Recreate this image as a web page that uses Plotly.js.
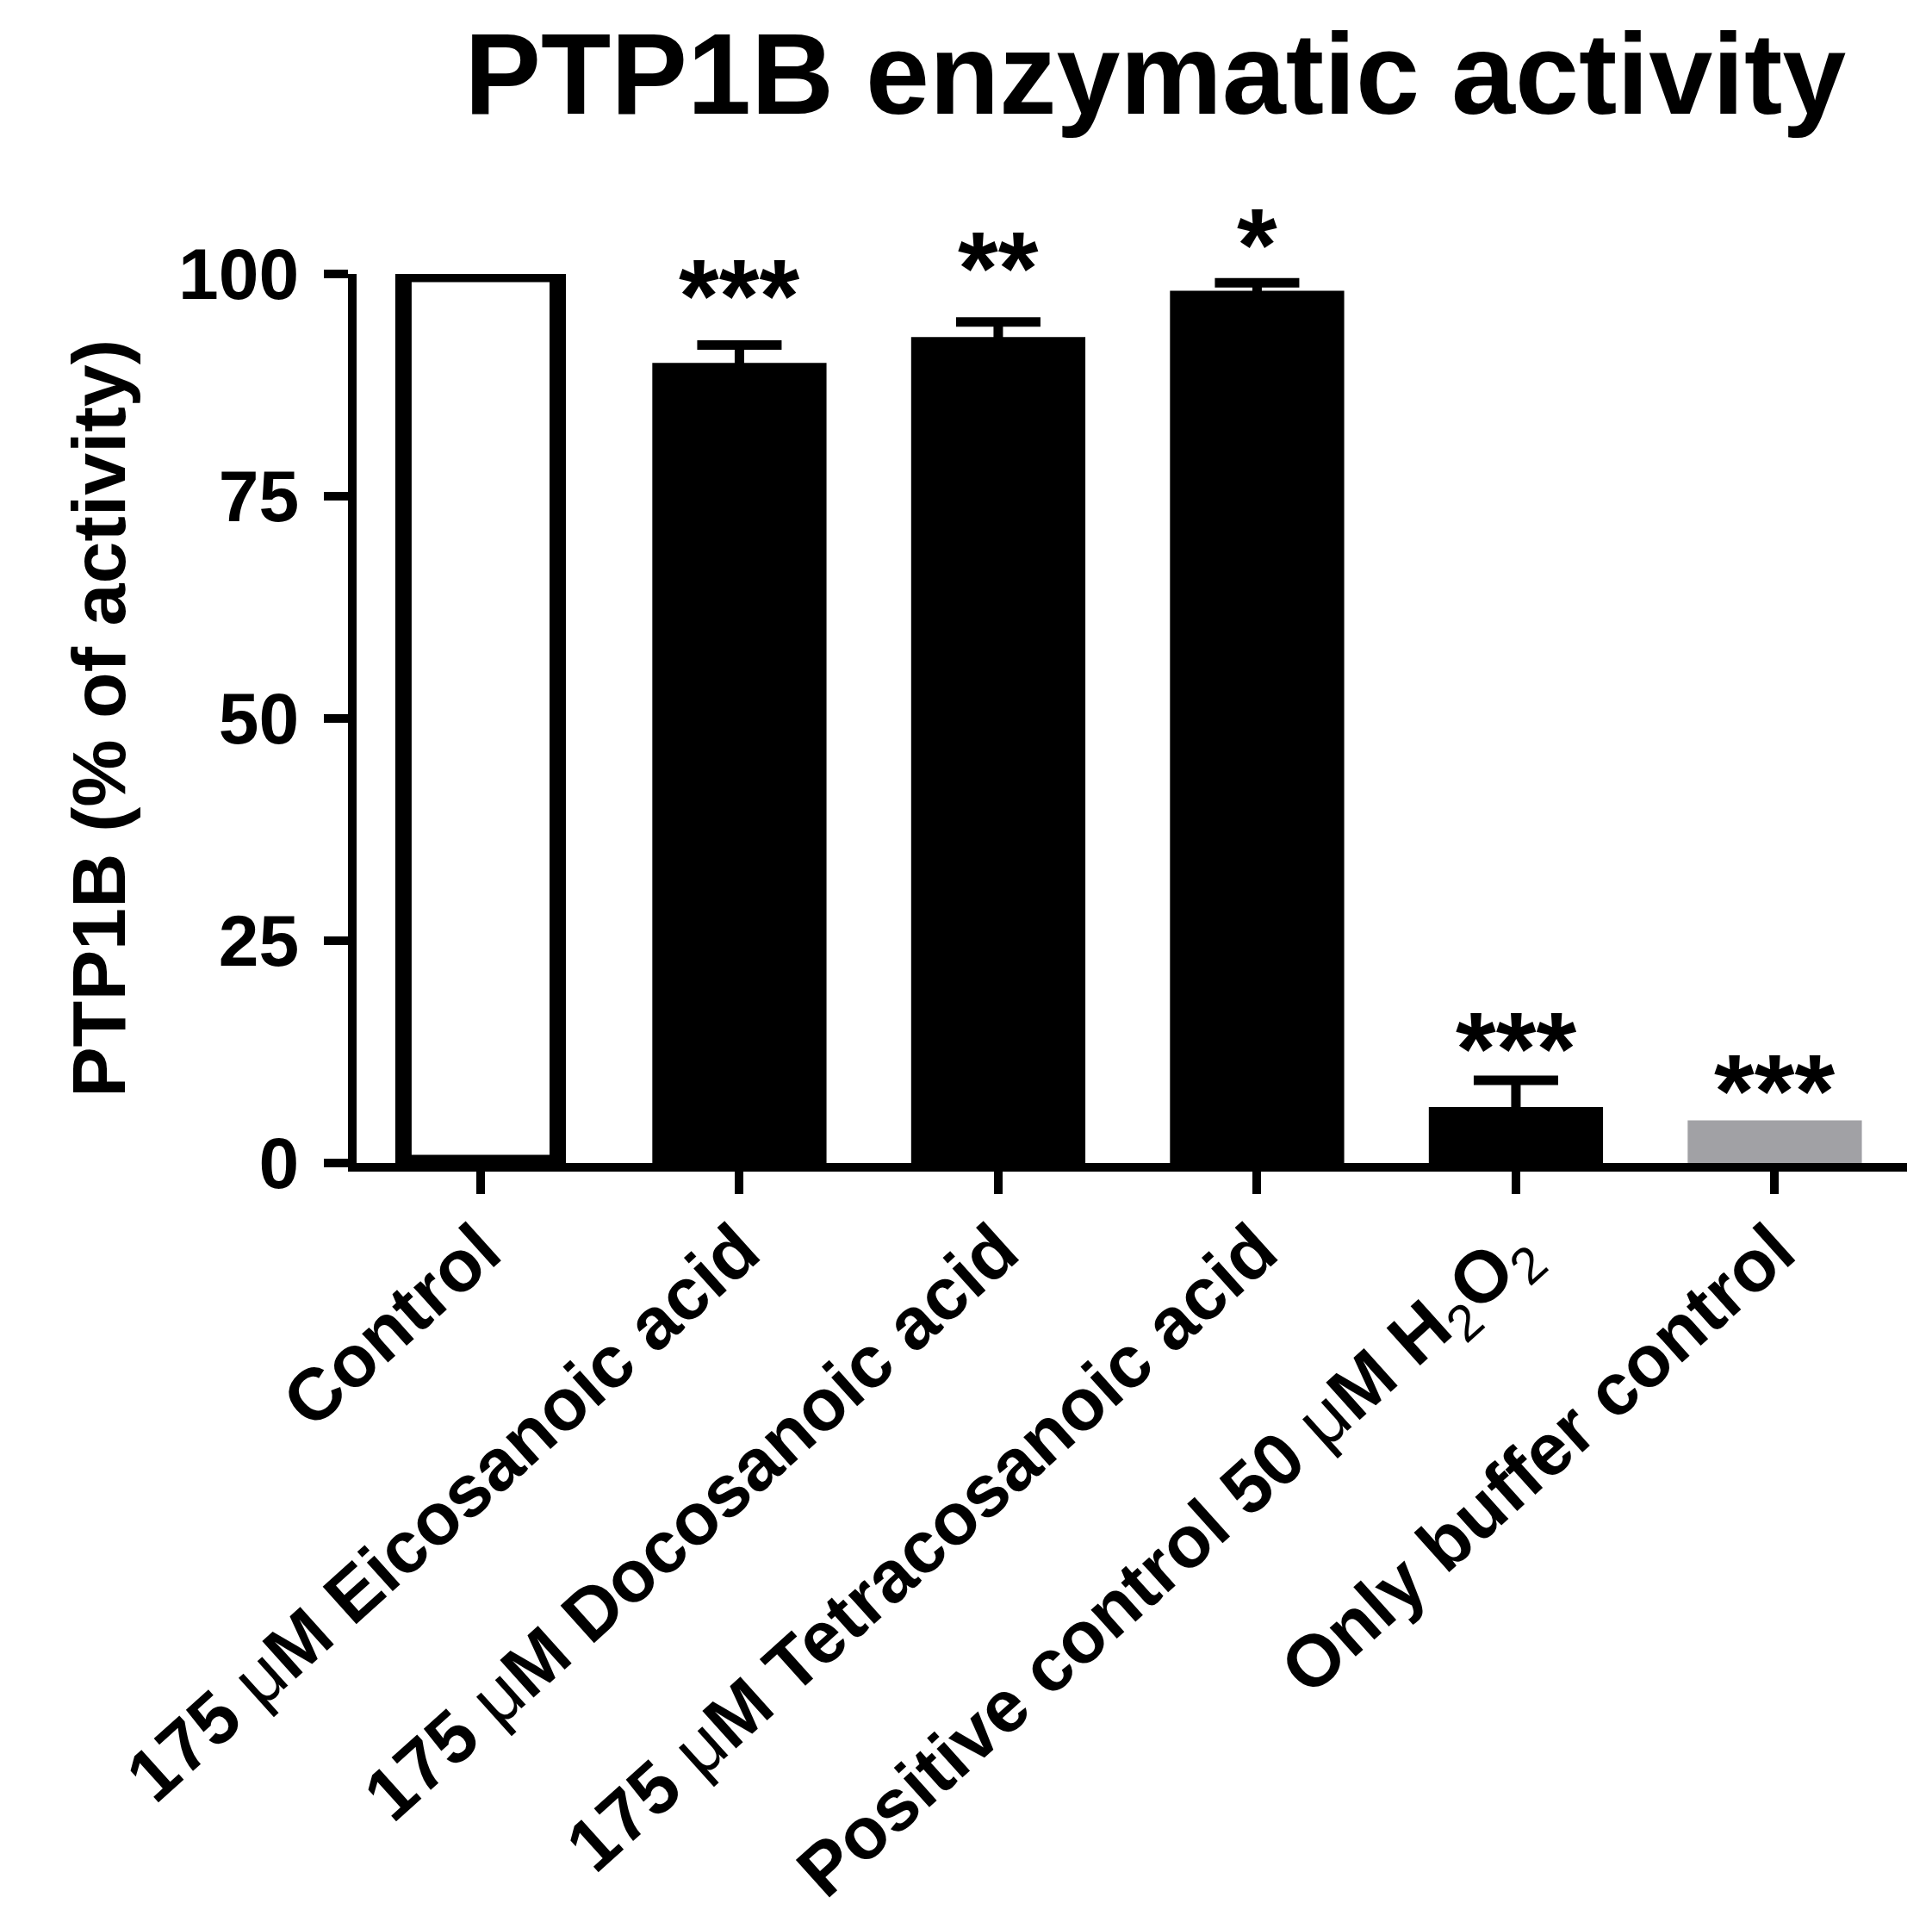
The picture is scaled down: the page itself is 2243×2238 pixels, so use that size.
<!DOCTYPE html>
<html>
<head>
<meta charset="utf-8">
<script src="https://cdn.plot.ly/plotly-3.0.1.min.js"></script>
<style>html,body{margin:0;padding:0;background:#fff;}#chart{width:2243px;height:2238px;}</style>
</head>
<body>
<div id="chart"></div>
<script>
// ---- data ----
var categories = ['Control', 'Eicosanoic', 'Docosanoic', 'Tetracosanoic', 'Positive', 'Buffer'];
var tickLabels = [
  'Control',
  '175 <span style="font-weight:normal">μ</span>M Eicosanoic acid',
  '175 <span style="font-weight:normal">μ</span>M Docosanoic acid',
  '175 <span style="font-weight:normal">μ</span>M Tetracosanoic acid',
  'Positive control 50 <span style="font-weight:normal">μ</span>M H<sub><span style="font-weight:normal">2</span></sub>O<sub><span style="font-weight:normal">2</span></sub>',
  'Only buffer control'
];
var activity = [100, 90.0, 92.9, 98.1, 6.3, 4.8];     // % of activity
var sem      = [0, 2.0, 1.7, 0.9, 3.0, 0];           // error (upper)
var stars    = ['', '***', '**', '*', '***', '***'];
var yTicks   = [0, 25, 50, 75, 100];

// layout-only: vertical nudge of each significance label (px)
var starShift = [0, -11, -6, -25, -32, -35];

var FONT = 'Liberation Sans, Arial, sans-serif';

var tx = categories.slice(1, 5), ty = activity.slice(1, 5), te = sem.slice(1, 5);

var traces = [
  { // error bars, drawn behind the bars (GraphPad style)
    type: 'bar', x: tx, y: ty, width: 0.673,
    marker: {color: 'rgba(0,0,0,0)', line: {width: 0}},
    error_y: {type: 'data', array: te, symmetric: true, color: '#000', thickness: 11, width: 49},
    hoverinfo: 'skip', showlegend: false, cliponaxis: false
  },
  { // control: open bar
    type: 'bar', x: [categories[0]], y: [activity[0]], width: 0.596,
    marker: {color: '#ffffff', line: {color: '#000', width: 19}},
    hoverinfo: 'skip', showlegend: false, cliponaxis: false
  },
  { // treatments: filled black bars
    type: 'bar', x: tx, y: ty, width: 0.673,
    marker: {color: '#000000', line: {width: 0}},
    hoverinfo: 'skip', showlegend: false, cliponaxis: false
  },
  { // only buffer control: grey bar
    type: 'bar', x: [categories[5]], y: [activity[5]], width: 0.673,
    marker: {color: '#a1a1a5', line: {width: 0}},
    hoverinfo: 'skip', showlegend: false, cliponaxis: false
  }
];

var annotations = categories.map(function (c, i) {
  return {
    x: c, y: activity[i] + sem[i], xref: 'x', yref: 'y',
    text: stars[i], showarrow: false, yanchor: 'bottom', yshift: starShift[i],
    font: {family: FONT, size: 120, color: '#000', weight: 'bold'}
  };
});

var layout = {
  width: 2243, height: 2238,
  paper_bgcolor: '#fff', plot_bgcolor: '#fff',
  margin: {l: 414, r: 29, t: 318, b: 888, pad: 0},
  barmode: 'overlay',
  showlegend: false,
  font: {family: FONT, color: '#000'},
  title: {
    text: '<b>PTP1B enzymatic activity</b>',
    font: {family: FONT, size: 133, color: '#000'},
    xref: 'container', yref: 'container', x: 0.598, xanchor: 'center',
    y: 0.9616, yanchor: 'middle'
  },
  xaxis: {
    type: 'category', categoryorder: 'array', categoryarray: categories,
    range: [-0.479, 5.511],
    tickvals: categories, ticktext: tickLabels,
    tickangle: -42,
    showline: true, linecolor: '#000', linewidth: 10,
    ticks: 'outside', ticklen: 26, tickwidth: 10, tickcolor: '#000',
    ticklabelstandoff: -18,
    tickfont: {family: FONT, size: 85, color: '#000', weight: 'bold'},
    showgrid: false, zeroline: false, fixedrange: true
  },
  yaxis: {
    range: [0, 100],
    tickvals: yTicks, ticktext: yTicks.map(String),
    showline: true, linecolor: '#000', linewidth: 10,
    ticks: 'outside', ticklen: 28, tickwidth: 10, tickcolor: '#000',
    ticklabelstandoff: 12,
    tickfont: {family: FONT, size: 84, color: '#000', weight: 'bold'},
    title: {text: '<b>PTP1B (% of activity)</b>', standoff: 36,
            font: {family: FONT, size: 88, color: '#000'}},
    showgrid: false, zeroline: false, fixedrange: true
  },
  annotations: annotations
};

Plotly.newPlot('chart', traces, layout, {staticPlot: true, displayModeBar: false});
</script>
</body>
</html>
